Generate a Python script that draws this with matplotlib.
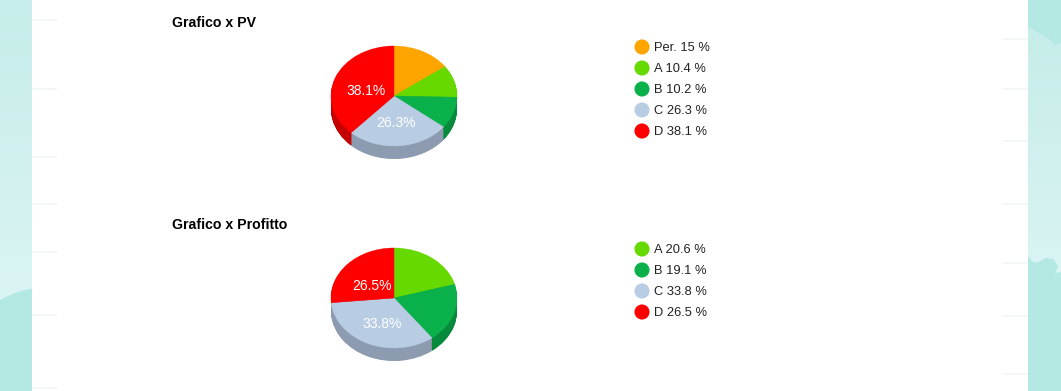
import numpy as np
import matplotlib
matplotlib.use('Agg')
import matplotlib.pyplot as plt
from matplotlib.patches import Ellipse, Rectangle
from matplotlib.colors import LinearSegmentedColormap

W, H = 1061, 391

pv_labels = ['Per.', 'A', 'B', 'C', 'D']
pv_values = [15, 10.4, 10.2, 26.3, 38.1]
pv_colors = ['#ffa500', '#66d900', '#0ab14b', '#b8cce4', '#ff0000']
pv_dark = ['#c98200', '#4fa800', '#078a3c', '#8c9bb0', '#c40000']

prof_labels = ['A', 'B', 'C', 'D']
prof_values = [20.6, 19.1, 33.8, 26.5]
prof_colors = pv_colors[1:]
prof_dark = pv_dark[1:]

# faint dashes on the page, left and right side
dash_left = [20, 89, 157, 204, 252, 315, 388]
dash_right = [39, 89, 141, 204, 263, 316, 374]

# cloud outlines on the right strip
cloud_top_x = [1028, 1031, 1037, 1047, 1055, 1061, 1061, 1028]
cloud_top_y = [28, 28, 32, 37, 45, 43, 0, 0]
cloud_low_x = [1028, 1032, 1037, 1046, 1053, 1058, 1055, 1061, 1061, 1028]
cloud_low_y = [256, 261, 263, 258, 259, 266, 273, 272, 391, 391]

plt.rcParams['font.family'] = ['Liberation Sans', 'DejaVu Sans']

fig = plt.figure(figsize=(W / 100, H / 100), dpi=100)
bg = fig.add_axes([0, 0, 1, 1])
bg.axis('off')

# page background
cmap = LinearSegmentedColormap.from_list('page', ['#c6ede9', '#d9f4f3'])
grad = np.linspace(0, 1, 100).reshape(-1, 1)
bg.imshow(grad, cmap=cmap, extent=[0, 32, 285, 0], aspect='auto', zorder=0)
bg.imshow(grad, cmap=cmap, extent=[1028, W, 275, 25], aspect='auto', zorder=0)
bg.set_xlim(0, W)
bg.set_ylim(H, 0)
bg.add_patch(Rectangle((0, 280), 32, 111, fc='#d9f4f3', ec='none', zorder=0))
blob = '#b4e8e2'
bg.add_patch(Ellipse((50, 365), 180, 156, fc=blob, ec='none', zorder=1))
bg.fill(cloud_top_x, cloud_top_y, fc=blob, ec='none', zorder=1)
bg.fill(cloud_low_x, cloud_low_y, fc=blob, ec='none', zorder=1)
bg.add_patch(Rectangle((32, 0), 996, H, fc='white', ec='none', zorder=1))
bg.hlines(dash_left, 32, 57, color='#f2f8f4', lw=1.3, zorder=2)
bg.hlines(dash_right, 1003, 1028, color='#f2f8f4', lw=1.3, zorder=2)


def draw_pie(values, colors, dark, cx, cy, rx=63, ry=50, depth=13):
    x0 = cx - 1.25 * rx
    top = cy - 1.25 * ry
    height = 2.75 * ry
    ax = fig.add_axes([x0 / W, 1 - (top + height) / H, 2.5 * rx / W, height / H])
    ax.patch.set_alpha(0)
    # side of the pie: the same slices stacked downwards
    for d in np.arange(depth, 0, -0.5):
        ax.pie(values, colors=dark, startangle=90, counterclock=False,
               center=(0, -d / ry), radius=1, normalize=True, frame=False)
    wedges, _, autotexts = ax.pie(
        values, colors=colors, startangle=90, counterclock=False,
        radius=1, pctdistance=0.47,
        autopct=lambda p: '%.1f%%' % p if p > 25 else '',
        textprops={'color': 'white', 'fontsize': 10})
    for w in wedges:
        w.set_edgecolor(w.get_facecolor())
        w.set_linewidth(0.3)
    for t in autotexts:
        x, y = t.get_position()
        t.set_position((x, y - 4 / ry))
    ax.set_aspect('auto')
    ax.set_xlim(-1.25, 1.25)
    ax.set_ylim(-1.5, 1.25)
    ax.axis('off')


def draw_legend(labels, values, colors, y0, step=21):
    ys = [y0 + i * step for i in range(len(labels))]
    bg.scatter([642] * len(ys), ys, s=118, c=colors, linewidths=0, zorder=3)
    for y, lab, val in zip(ys, labels, values):
        bg.text(654, y + 1.2, '%s %s %%' % (lab, val), fontsize=9.3,
                color='#222222', va='center', ha='left', zorder=3)


bg.text(172, 23, 'Grafico x PV', fontsize=10.2, fontweight='bold', color='black',
        va='center', ha='left', zorder=3)
bg.text(172, 225, 'Grafico x Profitto', fontsize=10.2, fontweight='bold', color='black',
        va='center', ha='left', zorder=3)

draw_pie(pv_values, pv_colors, pv_dark, 394, 96)
draw_pie(prof_values, prof_colors, prof_dark, 394, 298)
draw_legend(pv_labels, pv_values, pv_colors, 47)
draw_legend(prof_labels, prof_values, prof_colors, 249)

fig.savefig('out.png', dpi=100)
